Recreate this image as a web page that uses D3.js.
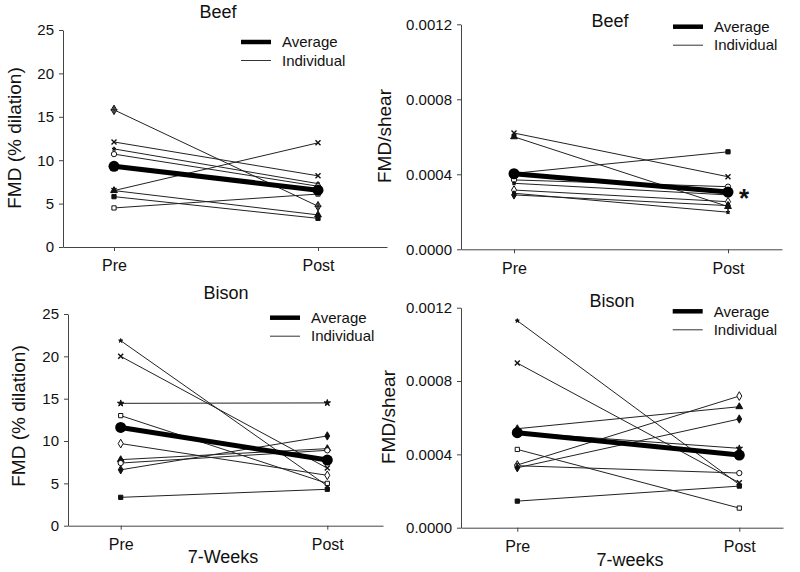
<!DOCTYPE html>
<html>
<head>
<meta charset="utf-8">
<script src="https://cdn.jsdelivr.net/npm/d3@7"></script>
<style>
  html, body { margin: 0; padding: 0; background: #fff; }
  svg { display: block; font-family: "Liberation Sans", Arial, sans-serif; }
</style>
</head>
<body>
<svg id="chart" width="800" height="572"></svg>
<script>
// ---------------- DATA ----------------
const timepoints = ["Pre", "Post"];
const fmdTicks = [0, 5, 10, 15, 20, 25];
const shearTicks = [0, 0.0004, 0.0008, 0.0012];

// Beef – FMD (% dilation)
const beefFmdPre  = [15.8, 12.1, 11.3, 10.7, 6.5, 6.5, 5.8, 4.5];
const beefFmdPost = [4.7, 8.2, 7.3, 7.0, 12.0, 3.7, 3.3, 6.1];
const beefFmdAvg  = [9.3, 6.55];

// Beef – FMD/shear
const beefShearPre  = [0.00062, 0.00060, 0.000405, 0.00037, 0.000352, 0.000316, 0.000299, 0.00029];
const beefShearPost = [0.000387, 0.000228, 0.00052, 0.000334, 0.00029, 0.000254, 0.000198, 0.000233];
const beefShearAvg  = [0.000403, 0.000305];

// Bison – FMD (% dilation)
const bisonFmdPre  = [21.85, 20.0, 14.45, 13.0, 9.7, 7.8, 7.4, 6.6, 3.35];
const bisonFmdPost = [4.7, 6.8, 14.5, 5.0, 5.95, 9.1, 8.9, 10.6, 4.3];
const bisonFmdAvg  = [11.6, 7.75];

// Bison – FMD/shear
const bisonShearPre  = [0.001129, 0.000898, 0.00054, 0.00052, 0.000427, 0.000342, 0.000338, 0.000327, 0.000145];
const bisonShearPost = [0.000235, 0.000245, 0.00066, 0.000433, 0.000107, 0.000718, 0.000298, 0.000593, 0.000227];
const bisonShearAvg  = [0.000518, 0.000396];

const panelTitles = ["Beef", "Beef", "Bison", "Bison"];
const legendLabels = ["Average", "Individual"];
const yLabels = ["FMD (% dilation)", "FMD/shear"];
const xLabels = ["", "", "7-Weeks", "7-weeks"];

// ---------------- STYLE / LAYOUT ----------------
const FONT = '"Liberation Sans", Arial, sans-serif';
const svg = d3.select("#chart");

const markerSets = {
  beefFmd:   ["crossDiamond", "x", "smallStar", "openCircle", "x", "triangle", "square", "openSquare"],
  beefShear: ["x", "triangle", "square", "openCircle", "smallStar", "openDiamond", "smallStar", "diamond"],
  bisonFmd:  ["smallStar", "x", "star", "openSquare", "openDiamond", "triangle", "openCircle", "diamond", "square"],
  bisonShear:["smallStar", "x", "triangle", "star", "openSquare", "openDiamond", "openCircle", "diamond", "square"]
};

function drawMarker(g, type, cx, cy) {
  const t = `translate(${cx},${cy})`;
  const sym = (st, size, fill) => g.append("path")
      .attr("transform", t)
      .attr("d", d3.symbol().type(st).size(size)())
      .attr("fill", fill).attr("stroke", "#111").attr("stroke-width", 1);
  switch (type) {
    case "square": sym(d3.symbolSquare, 18, "#111"); break;
    case "openSquare": sym(d3.symbolSquare, 18, "#fff"); break;
    case "circle": sym(d3.symbolCircle, 20, "#111"); break;
    case "openCircle": sym(d3.symbolCircle, 22, "#fff"); break;
    case "triangle": sym(d3.symbolTriangle, 20, "#111"); break;
    case "diamond": sym(d3.symbolDiamond, 20, "#111"); break;
    case "openDiamond": sym(d3.symbolDiamond, 22, "#fff"); break;
    case "x": g.append("path").attr("transform", t)
        .attr("d", d3.symbol().type(d3.symbolTimes).size(18)())
        .attr("fill", "none").attr("stroke", "#111").attr("stroke-width", 1.4); break;
    case "star": sym(d3.symbolStar, 13, "#111"); break;
    case "smallStar": sym(d3.symbolStar, 5, "#111"); break;
    case "crossDiamond":
      sym(d3.symbolDiamond, 26, "#888");
      g.append("path").attr("transform", t)
        .attr("d", d3.symbol().type(d3.symbolPlus).size(18)())
        .attr("fill", "none").attr("stroke", "#111").attr("stroke-width", 1); break;
  }
}

function drawPanel(cfg) {
  const g = svg.append("g");
  // x scale: point scale with padding/align so Pre/Post fall where they do
  const step = cfg.postX - cfg.preX;
  const padSpace = (cfg.x1 - cfg.x0) - step;
  const x = d3.scalePoint().domain(timepoints).range([cfg.x0, cfg.x1])
      .padding(padSpace / (2 * step)).align((cfg.preX - cfg.x0) / padSpace);
  const y = d3.scaleLinear().domain([0, cfg.ticks[cfg.ticks.length - 1]]).range([cfg.y0, cfg.yTop]);

  // axes
  const yAxis = g.append("g").attr("transform", `translate(${cfg.x0},0)`)
    .call(d3.axisLeft(y).tickValues(cfg.ticks).tickSize(4).tickSizeOuter(0).tickPadding(5).tickFormat(cfg.fmt));
  const xAxis = g.append("g").attr("transform", `translate(0,${cfg.y0})`)
    .call(d3.axisBottom(x).tickSize(4).tickSizeOuter(0).tickPadding(9));
  [yAxis, xAxis].forEach(a => {
    a.selectAll("path.domain").attr("stroke", "#444").attr("stroke-width", 1);
    a.selectAll(".tick line").attr("stroke", "#444");
    a.selectAll("text").attr("fill", "#111").attr("font-family", FONT);
  });
  yAxis.selectAll("text").attr("font-size", 15);
  xAxis.selectAll("text").attr("font-size", 16);

  // individual lines
  const line = d3.line().x(d => x(d[0])).y(d => y(d[1]));
  cfg.pre.forEach((p, i) => {
    const pts = [["Pre", p], ["Post", cfg.post[i]]];
    g.append("path").attr("d", line(pts)).attr("fill", "none")
      .attr("stroke", "#222").attr("stroke-width", 1);
  });
  cfg.pre.forEach((p, i) => {
    drawMarker(g, cfg.markers[i], x("Pre"), y(p));
    drawMarker(g, cfg.markers[i], x("Post"), y(cfg.post[i]));
  });
  // average
  const avgPts = [["Pre", cfg.avg[0]], ["Post", cfg.avg[1]]];
  g.append("path").attr("d", line(avgPts)).attr("fill", "none")
    .attr("stroke", "#000").attr("stroke-width", 5);
  avgPts.forEach(d => g.append("circle").attr("cx", x(d[0])).attr("cy", y(d[1]))
    .attr("r", 5.5).attr("fill", "#000"));

  // title
  g.append("text").attr("x", cfg.titleX).attr("y", cfg.titleY).attr("text-anchor", "middle")
    .attr("font-size", 18).attr("font-family", FONT).attr("fill", "#111").text(cfg.title);

  // legend
  const lg = g.append("g");
  lg.append("line").attr("x1", cfg.legX).attr("x2", cfg.legX + 30)
    .attr("y1", cfg.legY).attr("y2", cfg.legY).attr("stroke", "#000").attr("stroke-width", 4.5);
  lg.append("line").attr("x1", cfg.legX).attr("x2", cfg.legX + 30)
    .attr("y1", cfg.legY + 18.5).attr("y2", cfg.legY + 18.5).attr("stroke", "#333").attr("stroke-width", 1);
  legendLabels.forEach((l, i) => lg.append("text").attr("x", cfg.legX + 41).attr("y", cfg.legY + i * 18.5)
    .attr("dy", "0.35em").attr("font-size", 15).attr("font-family", FONT).attr("fill", "#111").text(l));

  // y label
  g.append("text").attr("transform", `translate(${cfg.ylX},${cfg.ylY}) rotate(-90)`)
    .attr("text-anchor", "middle").attr("dy", "0.35em").attr("font-size", 19)
    .attr("font-family", FONT).attr("fill", "#111").text(cfg.yLabel);

  // x label
  if (cfg.xLabel) {
    g.append("text").attr("x", cfg.xlX).attr("y", cfg.xlY).attr("text-anchor", "middle")
      .attr("font-size", 18).attr("font-family", FONT).attr("fill", "#111").text(cfg.xLabel);
  }
  return {x, y, g};
}

const fmtInt = d3.format("d");
const fmtShear = d3.format(".4f");

drawPanel({ x0: 63, x1: 387, preX: 114, postX: 318, y0: 247, yTop: 30,
  ticks: fmdTicks, fmt: fmtInt, pre: beefFmdPre, post: beefFmdPost, avg: beefFmdAvg,
  markers: markerSets.beefFmd, title: panelTitles[0], titleX: 218, titleY: 18,
  legX: 241, legY: 42, yLabel: yLabels[0], ylX: 14, ylY: 138, xLabel: xLabels[0] });

const p2 = drawPanel({ x0: 461, x1: 782, preX: 514, postX: 728, y0: 249.3, yTop: 24.3,
  ticks: shearTicks, fmt: fmtShear, pre: beefShearPre, post: beefShearPost, avg: beefShearAvg,
  markers: markerSets.beefShear, title: panelTitles[1], titleX: 610, titleY: 27,
  legX: 673, legY: 26.7, yLabel: yLabels[1], ylX: 384, ylY: 136, xLabel: xLabels[1] });

// significance asterisk next to Post average
p2.g.append("text").attr("x", p2.x("Post") + 16).attr("y", p2.y(beefShearAvg[1]) + 15)
  .attr("text-anchor", "middle").attr("font-size", 26).attr("font-weight", "bold")
  .attr("font-family", FONT).attr("fill", "#111").text("*");

drawPanel({ x0: 68, x1: 383, preX: 120.7, postX: 327.3, y0: 525.7, yTop: 314,
  ticks: fmdTicks, fmt: fmtInt, pre: bisonFmdPre, post: bisonFmdPost, avg: bisonFmdAvg,
  markers: markerSets.bisonFmd, title: panelTitles[2], titleX: 226, titleY: 299,
  legX: 270, legY: 317.7, yLabel: yLabels[0], ylX: 18, ylY: 416, xLabel: xLabels[2],
  xlX: 223, xlY: 563 });

drawPanel({ x0: 461, x1: 783, preX: 517.3, postX: 739.3, y0: 527.7, yTop: 307.7,
  ticks: shearTicks, fmt: fmtShear, pre: bisonShearPre, post: bisonShearPost, avg: bisonShearAvg,
  markers: markerSets.bisonShear, title: panelTitles[3], titleX: 612, titleY: 307,
  legX: 672.7, legY: 311.3, yLabel: yLabels[1], ylX: 388, ylY: 417, xLabel: xLabels[3],
  xlX: 630, xlY: 566 });
</script>
</body>
</html>
